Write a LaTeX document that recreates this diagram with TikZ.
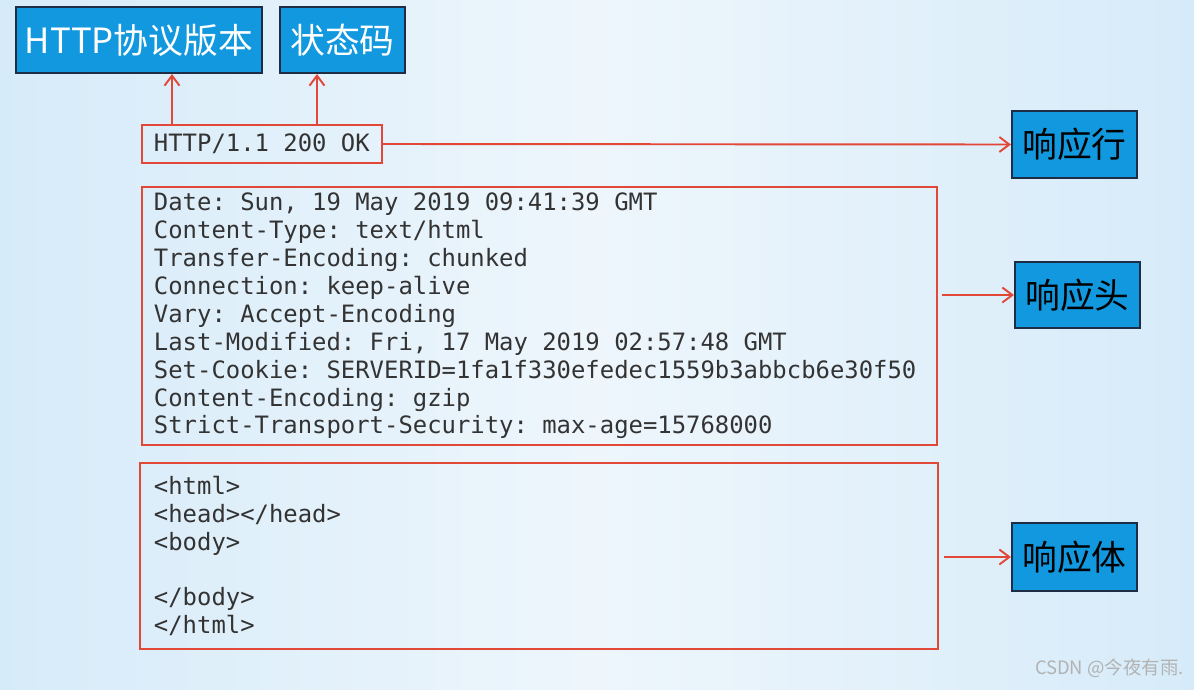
\documentclass[tikz,border=0pt]{standalone}
\usepackage{xcolor}
\usepackage{tikz}
\usepackage{fontspec}
\usetikzlibrary{arrows.meta}
\newfontfamily\cjk{Noto Sans CJK SC}
\setmonofont{DejaVu Sans Mono}
\newcommand{\plainspaces}{\spaceskip=0pt\xspaceskip=0pt\frenchspacing}
\definecolor{boxblue}{RGB}{18,152,222}
\definecolor{boxedge}{RGB}{30,45,70}
\definecolor{linered}{RGB}{226,72,56}
\definecolor{bgedge}{RGB}{214,235,249}
\definecolor{bgmid}{RGB}{238,246,252}

\begin{document}
\begin{tikzpicture}[x=0.02cm, y=-0.02cm,
		label/.style={draw=boxedge, line width=1.2pt, fill=boxblue, inner sep=0pt,
			font=\cjk\fontsize{19.8}{22}\selectfont},
		frame/.style={draw=linered, line width=1.1pt, align=left, inner ysep=0pt,
			font=\ttfamily\fontsize{13.6}{15.9}\selectfont, text=black!80},
		redarrow/.style={draw=linered, line width=1.1pt, -{Straight Barb[length=0.2cm, width=0.3cm]}}]
				% Background
				\useasboundingbox (0,0) rectangle (1194,690);
				\shade[left color=bgedge, right color=bgedge, middle color=bgmid] (0,0) rectangle (1194,690);
				
				% Top labels
				\node[label, text=white, minimum width=4.92cm, minimum height=1.32cm] (version) at (139,40) {HTTP协议版本};
				\node[label, text=white, minimum width=2.5cm, minimum height=1.32cm] (code) at (342.5,40) {状态码};
				
				% Status line
				\node[frame, anchor=west, inner xsep=0.24cm, minimum height=0.76cm] (statusline) at (141,144) {HTTP/1.1 200 OK};
				
				% Header block
				\node[frame, anchor=north west, inner xsep=0.24cm, text width=15.42cm, minimum height=5.16cm] (headers) at (141,186) {%
					\plainspaces Date: Sun, 19 May 2019 09:41:39 GMT\\
					Content-Type: text/html\\
					Transfer-Encoding: chunked\\
					Connection: keep-alive\\
					Vary: Accept-Encoding\\
					Last-Modified: Fri, 17 May 2019 02:57:48 GMT\\
					Set-Cookie: SERVERID=1fa1f330efedec1559b3abbcb6e30f50\\
					Content-Encoding: gzip\\
					Strict-Transport-Security: max-age=15768000};
				
				% Body block
				\node[frame, anchor=north west, inner xsep=0.28cm, text width=15.4cm, minimum height=3.72cm] (body) at (139,462) {%
					\plainspaces <html>\\
					<head></head>\\
					<body>\\
					~\\
					</body>\\
					</html>};
				
				% Right labels
				\node[label, minimum width=2.5cm, minimum height=1.34cm] (rowlabel) at (1074.5,144.5) {响应行};
				\node[label, minimum width=2.5cm, minimum height=1.32cm] (headlabel) at (1077.5,295) {响应头};
				\node[label, minimum width=2.5cm, minimum height=1.36cm] (bodylabel) at (1074.5,557) {响应体};
				
				% Arrows
				\draw[redarrow] (172,0 |- statusline.north) -- (172,0 |- version.south);
				\draw[redarrow] (317,0 |- statusline.north) -- (317,0 |- code.south);
				\draw[redarrow] (statusline.east) -- (rowlabel.west);
				\draw[redarrow, shorten <=0.08cm] (headers.east |- headlabel.west) -- (headlabel.west);
				\draw[redarrow, shorten <=0.1cm] (body.east |- bodylabel.west) -- (bodylabel.west);
				
				% Watermark
				\node[anchor=east, text=black!30, font=\cjk\fontsize{10.5}{12}\selectfont] (mark) at (1190,668) {CSDN @今夜有雨.};
				
			\end{tikzpicture}
\end{document}
